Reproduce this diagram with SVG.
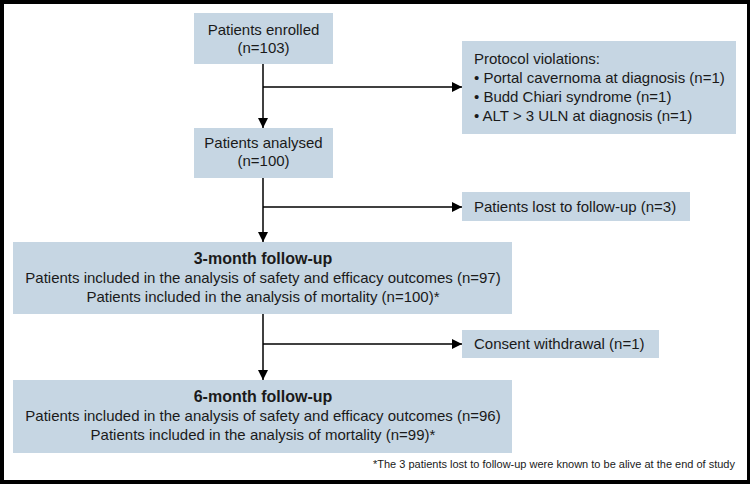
<svg xmlns="http://www.w3.org/2000/svg" width="750" height="484" viewBox="0 0 750 484">
<defs>
<style>
.box{fill:#c6d6e3}
text{font-family:"Liberation Sans",Arial,sans-serif;font-size:15px;fill:#1a1a1a}
.c{text-anchor:middle}
.b{font-weight:bold;font-size:16px}
.ln{stroke:#000;stroke-width:1.5;fill:none}
.fn{font-size:11px;text-anchor:end}
</style>
<marker id="ah" viewBox="0 0 10 10" refX="10" refY="5" markerWidth="10" markerHeight="10" markerUnits="userSpaceOnUse" orient="auto">
<path d="M0,0 L10,5 L0,10 Z" fill="#000"/>
</marker>
</defs>
<rect x="0" y="0" width="750" height="484" fill="#000"/>
<rect x="4" y="4" width="743" height="476" fill="#fff"/>
<g id="connectors">
<line class="ln" x1="263" y1="64" x2="263" y2="128" marker-end="url(#ah)"/>
<line class="ln" x1="263" y1="87" x2="462" y2="87" marker-end="url(#ah)"/>
<line class="ln" x1="263" y1="178" x2="263" y2="242" marker-end="url(#ah)"/>
<line class="ln" x1="263" y1="207" x2="462" y2="207" marker-end="url(#ah)"/>
<line class="ln" x1="263" y1="314" x2="263" y2="380" marker-end="url(#ah)"/>
<line class="ln" x1="263" y1="344" x2="462" y2="344" marker-end="url(#ah)"/>
</g>
<g id="enrolled">
<rect class="box" x="194" y="13" width="139" height="51"/>
<text class="c" x="263.5" y="35">Patients enrolled</text>
<text class="c" x="263.5" y="53">(n=103)</text>
</g>
<g id="violations">
<rect class="box" x="462" y="41" width="274" height="93"/>
<text x="474" y="64">Protocol violations:</text>
<text x="474" y="83">• Portal cavernoma at diagnosis (n=1)</text>
<text x="474" y="102">• Budd Chiari syndrome (n=1)</text>
<text x="474" y="121">• ALT &gt; 3 ULN at diagnosis (n=1)</text>
</g>
<g id="analysed">
<rect class="box" x="194" y="128" width="139" height="50"/>
<text class="c" x="263.5" y="148">Patients analysed</text>
<text class="c" x="263.5" y="166">(n=100)</text>
</g>
<g id="lost">
<rect class="box" x="462" y="192" width="228" height="29"/>
<text x="474" y="212">Patients lost to follow-up (n=3)</text>
</g>
<g id="month3">
<rect class="box" x="13" y="242" width="499" height="72"/>
<text class="c b" x="263" y="264">3-month follow-up</text>
<text class="c" x="263" y="283">Patients included in the analysis of safety and efficacy outcomes (n=97)</text>
<text class="c" x="263" y="302">Patients included in the analysis of mortality (n=100)*</text>
</g>
<g id="consent">
<rect class="box" x="462" y="330" width="197" height="28"/>
<text x="474" y="349">Consent withdrawal (n=1)</text>
</g>
<g id="month6">
<rect class="box" x="13" y="380" width="499" height="73"/>
<text class="c b" x="263" y="402">6-month follow-up</text>
<text class="c" x="263" y="421">Patients included in the analysis of safety and efficacy outcomes (n=96)</text>
<text class="c" x="263" y="440">Patients included in the analysis of mortality (n=99)*</text>
</g>
<text class="fn" x="735" y="468">*The 3 patients lost to follow-up were known to be alive at the end of study</text>
</svg>
